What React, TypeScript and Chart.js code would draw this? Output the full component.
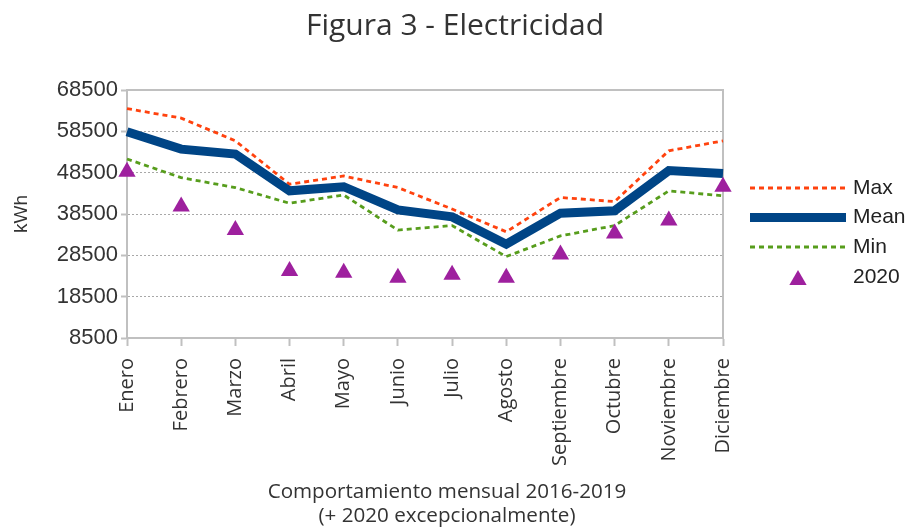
import React, { useEffect, useRef } from 'react';
import { Chart, registerables } from 'chart.js';

Chart.register(...registerables);

const months = ['Enero', 'Febrero', 'Marzo', 'Abril', 'Mayo', 'Junio', 'Julio', 'Agosto', 'Septiembre', 'Octubre', 'Noviembre', 'Diciembre'];
const maxValues = [64000, 61700, 56200, 45700, 47700, 44900, 39700, 34200, 42500, 41500, 53800, 56200];
const meanValues = [58400, 54200, 53000, 44100, 45100, 39500, 37800, 31200, 38700, 39300, 49000, 48300];
const minValues = [51800, 47300, 44900, 41100, 43100, 34600, 35700, 28200, 33200, 35700, 44100, 42900];
const values2020 = [48700, 40300, 34600, 24700, 24300, 23100, 23800, 23100, 28700, 33800, 36900, 45100];
const yMin = 8500;
const yMax = 68500;
const yStep = 10000;

const chartTitle = 'Figura 3 - Electricidad';
const xTitleLines = ['Comportamiento mensual 2016-2019', '(+ 2020 excepcionalmente)'];
const yTitle = 'kWh';
const legendLabels = ['Max', 'Mean', 'Min', '2020'];

const COLOR_MAX = '#ff420e';
const COLOR_MEAN = '#004586';
const COLOR_MIN = '#579d1c';
const COLOR_2020 = '#9e209e';
const AXIS_COLOR = '#c0c0c0';
const TEXT_COLOR = '#333333';

export default function App() {
  const ref = useRef<HTMLCanvasElement>(null);

  useEffect(() => {
    if (!ref.current) return;

    const framePlugin = {
      id: 'frame',
      beforeDatasetsDraw(chart: any) {
        const { ctx, chartArea } = chart;
        ctx.save();
        ctx.strokeStyle = AXIS_COLOR;
        ctx.lineWidth = 2;
        ctx.beginPath();
        ctx.moveTo(chartArea.left, chartArea.top);
        ctx.lineTo(chartArea.right, chartArea.top);
        ctx.lineTo(chartArea.right, chartArea.bottom);
        ctx.stroke();
        ctx.restore();
      },
    };

    const titlesPlugin = {
      id: 'titles',
      afterDraw(chart: any) {
        const ctx = chart.ctx;
        ctx.save();
        ctx.fillStyle = TEXT_COLOR;
        ctx.textAlign = 'center';
        ctx.textBaseline = 'alphabetic';
        ctx.font = '30px "Open Sans"';
        ctx.fillText(chartTitle, 455, 35);
        ctx.font = '20.6px "Open Sans"';
        ctx.fillText(xTitleLines[0], 447, 498);
        ctx.fillText(xTitleLines[1], 447, 521.5);
        ctx.restore();
      },
    };

    const legendPlugin = {
      id: 'customLegend',
      afterDraw(chart: any) {
        const ctx = chart.ctx;
        const x0 = 750;
        const x1 = 846;
        const tx = 853;
        const rows = [
          { y: 188, color: COLOR_MAX, width: 2.8, dash: [5, 4] },
          { y: 217.5, color: COLOR_MEAN, width: 9, dash: [] as number[] },
          { y: 247, color: COLOR_MIN, width: 2.8, dash: [5, 4] },
        ];
        ctx.save();
        for (const r of rows) {
          ctx.strokeStyle = r.color;
          ctx.lineWidth = r.width;
          ctx.setLineDash(r.dash);
          ctx.beginPath();
          ctx.moveTo(x0, r.y);
          ctx.lineTo(x1, r.y);
          ctx.stroke();
        }
        ctx.setLineDash([]);
        const cx = 798;
        const cy = 280;
        const rad = 10;
        ctx.fillStyle = COLOR_2020;
        ctx.beginPath();
        ctx.moveTo(cx, cy - rad);
        ctx.lineTo(cx + rad * Math.sin((2 * Math.PI) / 3), cy + rad / 2);
        ctx.lineTo(cx - rad * Math.sin((2 * Math.PI) / 3), cy + rad / 2);
        ctx.closePath();
        ctx.fill();
        ctx.fillStyle = '#222';
        ctx.font = '21px "Liberation Sans"';
        ctx.textBaseline = 'middle';
        ctx.textAlign = 'left';
        const ys = [188, 217.5, 247, 277];
        legendLabels.forEach((l, i) => ctx.fillText(l, tx, ys[i]));
        ctx.restore();
      },
    };

    const chart = new Chart(ref.current, {
      type: 'line',
      data: {
        labels: months,
        datasets: [
          {
            label: '2020',
            data: values2020,
            showLine: false,
            pointStyle: 'triangle',
            pointRadius: 10,
            pointBackgroundColor: COLOR_2020,
            pointBorderColor: COLOR_2020,
            pointBorderWidth: 0,
            backgroundColor: COLOR_2020,
            borderColor: COLOR_2020,
            clip: false,
            order: 0,
          },
          {
            label: 'Mean',
            data: meanValues,
            borderColor: COLOR_MEAN,
            borderWidth: 9,
            pointRadius: 0,
            tension: 0,
            fill: false,
            order: 1,
          },
          {
            label: 'Max',
            data: maxValues,
            borderColor: COLOR_MAX,
            borderWidth: 2.8,
            borderDash: [5, 4],
            pointRadius: 0,
            tension: 0,
            fill: false,
            order: 2,
          },
          {
            label: 'Min',
            data: minValues,
            borderColor: COLOR_MIN,
            borderWidth: 2.8,
            borderDash: [5, 4],
            pointRadius: 0,
            tension: 0,
            fill: false,
            order: 3,
          },
        ],
      },
      options: {
        responsive: false,
        animation: false,
        events: [],
        layout: { padding: { left: 4, right: 186, top: 90, bottom: 0 } },
        plugins: {
          legend: { display: false },
          tooltip: { enabled: false },
          title: { display: false },
        },
        scales: {
          x: {
            type: 'category',
            offset: false,
            grid: {
              display: true,
              drawOnChartArea: false,
              drawTicks: true,
              tickLength: 8,
              tickColor: AXIS_COLOR,
              tickWidth: 2,
            },
            border: { display: true, color: AXIS_COLOR, width: 2 },
            ticks: {
              autoSkip: false,
              minRotation: 90,
              maxRotation: 90,
              padding: 12,
              color: TEXT_COLOR,
              font: { family: '"Open Sans"', size: 20 },
            },
            title: { display: false },
            afterFit(scale: any) {
              scale.height = 190;
              scale.paddingRight = 0;
              scale.paddingLeft = 0;
            },
          },
          y: {
            min: yMin,
            max: yMax,
            ticks: {
              stepSize: yStep,
              padding: 3,
              color: TEXT_COLOR,
              font: { family: '"Liberation Sans"', size: 22 },
              callback: (v: any) => String(v),
            },
            grid: {
              color: '#a8a8a8',
              lineWidth: 1,
              tickLength: 6,
              tickColor: AXIS_COLOR,
              tickWidth: 2,
            },
            border: { display: true, color: AXIS_COLOR, width: 2, dash: [2, 2] },
            title: {
              display: true,
              text: yTitle,
              color: TEXT_COLOR,
              font: { family: '"Liberation Sans"', size: 19 },
              padding: { top: 6, bottom: 0 },
            },
            afterFit(scale: any) {
              scale.width = 123;
              scale.paddingTop = 0;
              scale.paddingBottom = 0;
            },
          },
        },
      },
      plugins: [framePlugin, titlesPlugin, legendPlugin],
    } as any);

    return () => chart.destroy();
  }, []);

  return (
    <div style={{ position: 'absolute', left: 0, top: 0, width: 909, height: 528, background: '#fff' }}>
      <canvas ref={ref} width={909} height={528} style={{ display: 'block' }} />
    </div>
  );
}
